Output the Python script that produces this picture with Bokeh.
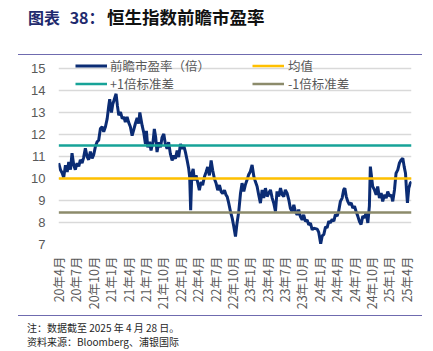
import math
import pandas as pd
from bokeh.plotting import figure
from bokeh.layouts import column
from bokeh.models import Range1d, FixedTicker, Legend, LegendItem, Div
from bokeh.embed import file_html
from bokeh.resources import INLINE

# ---------------- data ----------------
dates = [
    "2020-04-02", "2020-04-11", "2020-04-20", "2020-04-28", "2020-05-07", "2020-05-16", "2020-05-24",
    "2020-06-03", "2020-06-11", "2020-06-20", "2020-06-28", "2020-07-07", "2020-07-16", "2020-07-24",
    "2020-08-03", "2020-08-11", "2020-08-20", "2020-08-29", "2020-09-07", "2020-09-16", "2020-09-25",
    "2020-10-03", "2020-10-12", "2020-10-21", "2020-10-29", "2020-11-08", "2020-11-17", "2020-11-25",
    "2020-12-04", "2020-12-13", "2020-12-21", "2020-12-26",
    "2021-01-05", "2021-01-12", "2021-01-20", "2021-01-29", "2021-02-06", "2021-02-13", "2021-02-22",
    "2021-03-01", "2021-03-09", "2021-03-17", "2021-03-26", "2021-04-04", "2021-04-13", "2021-04-22",
    "2021-04-30", "2021-05-09", "2021-05-18", "2021-05-26", "2021-06-02", "2021-06-14", "2021-06-22",
    "2021-07-01", "2021-07-06", "2021-07-13", "2021-07-22", "2021-07-30", "2021-08-11", "2021-08-17",
    "2021-08-24", "2021-09-01", "2021-09-10", "2021-09-19", "2021-09-27", "2021-10-06", "2021-10-14",
    "2021-10-23", "2021-11-01", "2021-11-10", "2021-11-19", "2021-11-27", "2021-12-06", "2021-12-15",
    "2021-12-23",
    "2022-01-02", "2022-01-11", "2022-01-19", "2022-01-28", "2022-02-07", "2022-02-15", "2022-02-20",
    "2022-02-25", "2022-03-01", "2022-03-08", "2022-03-14", "2022-03-23", "2022-04-01", "2022-04-10",
    "2022-04-19", "2022-04-27", "2022-05-06", "2022-05-15", "2022-05-23", "2022-06-02", "2022-06-11",
    "2022-06-19", "2022-06-28", "2022-07-07", "2022-07-15", "2022-07-24", "2022-08-03", "2022-08-11",
    "2022-08-20", "2022-08-28", "2022-09-04", "2022-09-12", "2022-09-21", "2022-09-30", "2022-10-08",
    "2022-10-17", "2022-10-25", "2022-11-04", "2022-11-13", "2022-11-21", "2022-11-30", "2022-12-08",
    "2022-12-17", "2022-12-25",
    "2023-01-04", "2023-01-13", "2023-01-22", "2023-01-30", "2023-02-09", "2023-02-17", "2023-02-26",
    "2023-03-05", "2023-03-13", "2023-03-22", "2023-04-01", "2023-04-09", "2023-04-18", "2023-04-27",
    "2023-05-05", "2023-05-14", "2023-05-22", "2023-06-01", "2023-06-10", "2023-06-19", "2023-06-27",
    "2023-07-05", "2023-07-14", "2023-07-23", "2023-08-01", "2023-08-10", "2023-08-19", "2023-08-27",
    "2023-09-06", "2023-09-14", "2023-09-23", "2023-10-02", "2023-10-10", "2023-10-19", "2023-10-28",
    "2023-11-06", "2023-11-15", "2023-11-24", "2023-12-02", "2023-12-11", "2023-12-20", "2023-12-28",
    "2024-01-08", "2024-01-16", "2024-01-24", "2024-02-03", "2024-02-11", "2024-02-20", "2024-02-28",
    "2024-03-07", "2024-03-16", "2024-03-24", "2024-04-03", "2024-04-11", "2024-04-20", "2024-04-29",
    "2024-05-07", "2024-05-13", "2024-05-20", "2024-05-28", "2024-06-07", "2024-06-16", "2024-06-24",
    "2024-07-03", "2024-07-11", "2024-07-20", "2024-07-28", "2024-08-07", "2024-08-16", "2024-08-25",
    "2024-09-03", "2024-09-12", "2024-09-20", "2024-09-25", "2024-10-01", "2024-10-07", "2024-10-16",
    "2024-10-25", "2024-11-03", "2024-11-12", "2024-11-21", "2024-11-29", "2024-12-08", "2024-12-17",
    "2024-12-25",
    "2025-01-04", "2025-01-13", "2025-01-21", "2025-01-30", "2025-02-08", "2025-02-17", "2025-02-25",
    "2025-03-04", "2025-03-13", "2025-03-20", "2025-03-27", "2025-04-02", "2025-04-07", "2025-04-14",
    "2025-04-22", "2025-04-28",
]

forward_pe = [
    10.7, 10.4, 10.25, 10.05, 10.6, 10.3, 10.75,
    10.4, 11.15, 10.6, 10.4, 10.7, 10.55, 10.85,
    10.7, 10.95, 11.37, 11.0, 10.85, 11.22, 10.92,
    11.07, 11.45, 11.67, 11.74, 12.27, 12.35, 12.12,
    12.35, 12.72, 13.3, 13.6,
    13.0, 13.38, 13.6, 13.85, 13.3, 12.87, 13.02,
    12.72, 12.8, 12.57, 12.8, 12.55, 12.35, 11.95,
    12.2, 12.5, 12.75, 12.5, 13.0, 12.4, 12.1,
    11.57, 12.17, 11.42, 11.67, 11.27, 11.72, 12.25,
    11.87, 11.2, 11.65, 11.42, 11.87, 12.02, 11.57,
    11.35, 11.65, 11.12, 10.82, 11.05, 10.9, 11.27,
    10.97,
    11.57, 11.35, 11.5, 11.2, 10.82, 10.44, 10.07,
    8.56, 10.22, 10.44, 9.92, 10.14, 9.84, 9.47,
    9.84, 9.7, 10.07, 10.3, 10.52, 10.14, 10.82,
    10.37, 9.99, 9.77, 9.47, 9.7, 9.4, 9.32,
    9.47, 9.25, 9.18, 8.88, 8.5, 8.2, 7.83,
    7.36, 7.97, 8.5, 9.33, 9.79, 9.41, 9.71,
    9.94, 10.17,
    10.32, 10.62, 10.09, 9.86, 9.64, 9.26, 8.88,
    9.48, 9.11, 9.56, 9.18, 9.33, 9.48, 9.11,
    8.88, 8.5, 9.41, 9.18, 9.56, 9.26, 9.18,
    9.48, 9.33, 9.03, 8.65, 8.5, 8.8, 8.5,
    8.35, 8.58, 8.27, 8.12, 8.35, 8.05, 8.12,
    7.89, 7.97, 7.67, 7.74, 7.72, 7.7, 7.55,
    7.03, 7.4, 7.45, 7.8, 7.76, 8.06, 7.98,
    8.14, 8.06, 8.36, 8.29, 8.51, 8.96, 9.11,
    9.49, 9.56, 9.19, 8.96, 8.81, 8.89, 8.66,
    8.74, 8.51, 8.29, 8.06, 7.91, 8.29, 8.21,
    8.44, 7.98, 8.74, 10.54, 10.09, 9.64, 9.49,
    9.26, 9.64, 9.11, 9.34, 8.96, 9.26, 9.11,
    9.41,
    9.19, 9.26, 8.96, 9.49, 10.24, 10.39, 10.69,
    10.84, 10.92, 10.54, 10.24, 9.49, 8.89, 9.56,
    9.79, 9.86,
]

mean_value = 10.0
plus_1sd = 11.5
minus_1sd = 8.45

tick_labels = ["20年4月", "20年7月", "20年10月", "21年1月", "21年4月", "21年7月", "21年10月",
               "22年1月", "22年4月", "22年7月", "22年10月", "23年1月", "23年4月", "23年7月",
               "23年10月", "24年1月", "24年4月", "24年7月", "24年10月", "25年1月", "25年4月"]
y_ticks = [7, 8, 9, 10, 11, 12, 13, 14, 15]

series_names = ["前瞻市盈率（倍）", "均值", "+1倍标准差", "-1倍标准差"]
title_prefix = "图表 38："
title_main = "恒生指数前瞻市盈率"
note_text = "注：数据截至 2025 年 4 月 28 日。"
source_text = "资料来源：Bloomberg、浦银国际"

# ------------- helpers -------------
dt = pd.to_datetime(dates)
mx = list((dt.year - 2020) * 12 + (dt.month - 4) + (dt.day - 1) / 30.0)


def label_pos(lbl):
    yy, rest = lbl.split("年")
    mm = int(rest.replace("月", ""))
    return (2000 + int(yy) - 2020) * 12 + (mm - 4)


tick_pos = [label_pos(t) for t in tick_labels]

CJK = "Noto Sans CJK SC"
GREY = "#595959"
RULE = "#6F6BAF"

# ------------- chart -------------
# frame: x 58..411, y 56..244 (gridline 15 sits at y=67.7)
p = figure(width=433, height=260, x_range=Range1d(0, 60.9), y_range=Range1d(7, 15.545),
           toolbar_location=None, output_backend="svg",
           min_border_left=58, min_border_right=22, min_border_top=0, min_border_bottom=72,
           outline_line_color=None)

r_pe = p.line(x=mx, y=forward_pe, line_color="#0B2C74", line_width=3)
x_span = [min(mx), max(mx)]
r_mean = p.line(x=x_span, y=[mean_value, mean_value], line_color="#FFC000", line_width=2.5)
r_up = p.line(x=x_span, y=[plus_1sd, plus_1sd], line_color="#17A398", line_width=2.5)
r_dn = p.line(x=x_span, y=[minus_1sd, minus_1sd], line_color="#8C8B6B", line_width=2.5)

p.xaxis.ticker = FixedTicker(ticks=tick_pos)
p.xaxis.major_label_overrides = {pos: lbl for pos, lbl in zip(tick_pos, tick_labels)}
p.xaxis.major_label_orientation = math.pi / 2
p.yaxis.ticker = FixedTicker(ticks=y_ticks)

for ax in (p.xaxis[0], p.yaxis[0]):
    ax.axis_line_color = None
    ax.major_tick_line_color = None
    ax.minor_tick_line_color = None
    ax.major_tick_out = 0
    ax.major_tick_in = 0
    ax.major_label_text_color = GREY

p.xaxis.major_label_text_font = CJK
p.xaxis.major_label_text_font_size = "12.5px"
p.xaxis.major_label_standoff = 12
p.yaxis.major_label_text_font = "Liberation Sans"
p.yaxis.major_label_text_font_size = "13px"
p.yaxis.major_label_standoff = 13

p.xgrid.visible = False
p.ygrid.grid_line_color = "#D9D9D9"
p.ygrid.grid_line_width = 1.5

# legends: one per item so that the two rows can sit close together
common = dict(label_text_font=CJK, label_text_font_size="12.5px", label_text_color=GREY,
              glyph_width=32, glyph_height=19, label_height=19,
              spacing=0, padding=0, margin=0, border_line_color=None,
              background_fill_alpha=0.0, label_width=20)

legends = [
    Legend(items=[LegendItem(label=series_names[0], renderers=[r_pe])],
           location=(17, 169.3), label_standoff=3, **common),
    Legend(items=[LegendItem(label=series_names[1], renderers=[r_mean])],
           location=(194, 169.3), label_standoff=4, **common),
    Legend(items=[LegendItem(label=series_names[2], renderers=[r_up])],
           location=(17, 151.2), label_standoff=3, **common),
    Legend(items=[LegendItem(label=series_names[3], renderers=[r_dn])],
           location=(194, 151.2), label_standoff=4, **common),
]
for lg in legends:
    p.add_layout(lg)

# ------------- title block and notes -------------
FONT_CSS = "font-family:'Noto Sans CJK SC';white-space:nowrap;position:absolute;"
# horizontal rules drawn as an underline under a run of no-break spaces
RULE_CSS = ("position:absolute;display:block;left:18px;width:404px;height:14px;overflow:hidden;"
            "white-space:pre;font-family:'Liberation Sans';font-size:10px;line-height:10px;"
            "text-decoration-line:underline;text-decoration-style:solid;"
            f"text-decoration-color:{RULE};text-decoration-thickness:1.3px;"
            "text-underline-offset:1px;color:transparent;")
RULE_FILL = "\u00a0" * 160

top_html = (
    f'<span style="{FONT_CSS}left:28px;top:7px;line-height:20px;font-size:16px;word-spacing:6px;'
    f'font-weight:bold;color:#1F2A6E;">{title_prefix}</span>'
    f'<span style="{FONT_CSS}left:107px;top:7px;line-height:20px;font-size:17.5px;'
    f'font-weight:bold;color:#111111;">{title_main}</span>'
    f'<span style="{RULE_CSS}top:45.3px;">{RULE_FILL}</span>'
)
bottom_html = (
    f'<span style="{RULE_CSS}top:-9.6px;">{RULE_FILL}</span>'
    f'<span style="{FONT_CSS}left:27px;top:4.5px;line-height:14px;font-size:10px;color:#262626;">{note_text}</span>'
    f'<span style="{FONT_CSS}left:27px;top:19px;line-height:14px;font-size:10px;color:#262626;">{source_text}</span>'
)
top_div = Div(text=top_html, width=433, height=56, margin=0,
              styles={"position": "relative", "overflow": "visible"})
bottom_div = Div(text=bottom_html, width=433, height=35, margin=0,
                 styles={"position": "relative", "overflow": "visible"})

layout = column(top_div, p, bottom_div, spacing=0)
open("out.html", "w").write(file_html(layout, INLINE))
